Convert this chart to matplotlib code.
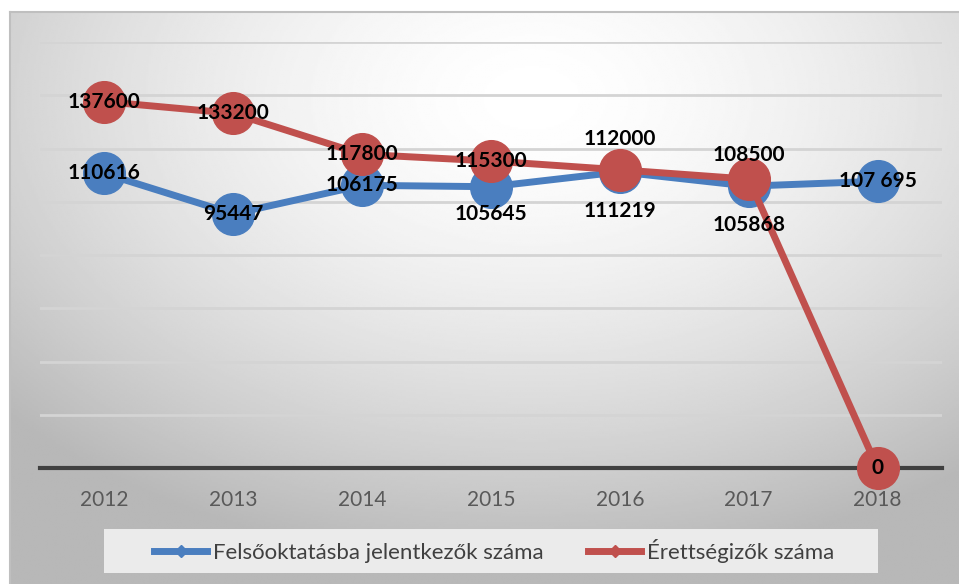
import numpy as np
import matplotlib
matplotlib.use('Agg')
import matplotlib.pyplot as plt
from matplotlib.lines import Line2D
from matplotlib.patches import Rectangle

years = ['2012', '2013', '2014', '2015', '2016', '2017', '2018']
felsooktatas = [110616, 95447, 106175, 105645, 111219, 105868, 107695]
felso_labels = ['110616', '95447', '106175', '105645', '111219', '105868', '107 695']
erettsegi = [137600, 133200, 117800, 115300, 112000, 108500, 0]
erett_labels = ['137600', '133200', '117800', '115300', '112000', '108500', '0']
# label offsets in pixels from the marker (0 = centered)
felso_dy = [0, 0, 0, -27, -39, -39, 0]
erett_dy = [0, 0, 0, 0, 31, 24, 0]

blue = '#4a7ebf'
red = '#c0504d'

W, H = 959, 584
fig = plt.figure(figsize=(W / 100, H / 100), dpi=100)
fig.patch.set_facecolor('white')

# gradient background of the chart area
bg = fig.add_axes([10 / W, 0, (W - 10) / W, (H - 12) / H])
yy, xx = np.mgrid[0:1:300j, 0:1:500j]
r = np.sqrt(((xx - 0.55) / 1.0) ** 2 + ((yy - 0.15) / 1.1) ** 2)
shade = 1.0 - 0.28 * np.clip(r / 0.75, 0, 1) ** 1.6
bg.imshow(shade, cmap='gray', vmin=0, vmax=1, aspect='auto', extent=[0, 1, 1, 0])
bg.set_xlim(0, 1)
bg.set_ylim(1, 0)
bg.set_xticks([])
bg.set_yticks([])
for s in ['right', 'bottom']:
    bg.spines[s].set_visible(False)
for s in ['top', 'left']:
    bg.spines[s].set_color('#bfbfbf')
    bg.spines[s].set_linewidth(1.5)

ax = fig.add_axes([40 / W, 1 - 468 / H, 902 / W, (468 - 42) / H])
ax.patch.set_alpha(0)
x = np.arange(len(years))
ax.set_xlim(-0.5, len(years) - 0.5)
ax.set_ylim(0, 160000)
ax.set_yticks(np.arange(0, 160001, 20000))
ax.yaxis.grid(True, color='#d4d4d4', linewidth=2)
ax.set_axisbelow(True)
ax.tick_params(left=False, labelleft=False, bottom=False)
for s in ['left', 'right', 'top']:
    ax.spines[s].set_visible(False)
ax.spines['bottom'].set_color('#404040')
ax.spines['bottom'].set_linewidth(3)
ax.set_xticks(x)
ax.set_xticklabels(years, fontsize=15, color='#595959', family='Lato')
ax.tick_params(axis='x', pad=12)

ax.plot(x, felsooktatas, color=blue, lw=5, marker='o', ms=30,
        mec=blue, clip_on=False, zorder=3)
ax.plot(x, erettsegi, color=red, lw=5, marker='o', ms=30,
        mec=red, clip_on=False, zorder=4)

def put_labels(vals, labels, offs):
    for i, (v, t, dy) in enumerate(zip(vals, labels, offs)):
        ax.annotate(t, (i, v), xytext=(0, dy), textcoords='offset pixels',
                    ha='center', va='center', fontsize=15, fontweight='bold',
                    family='Lato', color='black', zorder=6, annotation_clip=False)

put_labels(felsooktatas, felso_labels, felso_dy)
put_labels(erettsegi, erett_labels, erett_dy)

# legend box
fig.patches.append(Rectangle((104 / W, 1 - 573 / H), 774 / W, 44 / H,
                             transform=fig.transFigure, facecolor='#ebebeb',
                             edgecolor='none', zorder=1))
handles = [
    Line2D([0], [0], color=blue, lw=5, marker='D', ms=6),
    Line2D([0], [0], color=red, lw=5, marker='D', ms=6),
]
leg = fig.legend(handles, ['Felsőoktatásba jelentkezők száma', 'Érettségizők száma'],
                 loc='center', bbox_to_anchor=(494 / W, 1 - 551 / H), ncol=2,
                 frameon=False, handlelength=2.4, handletextpad=0.25,
                 columnspacing=2.0, borderpad=0.3,
                 prop={'family': 'Lato', 'size': 16})
leg.set_zorder(5)
for t in leg.get_texts():
    t.set_color('#404040')

fig.savefig('out.png', dpi=100)
